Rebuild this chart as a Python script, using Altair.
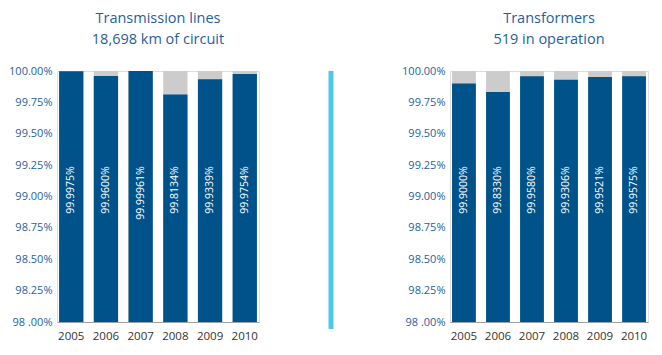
import altair as alt
import pandas as pd

years = ["2005", "2006", "2007", "2008", "2009", "2010"]
lines_vals = [99.9975, 99.9600, 99.99961, 99.8134, 99.9339, 99.9754]
lines_labels = ["99.9975%", "99.9600%", "99.99961%", "99.8134%", "99.9339%", "99.9754%"]
trans_vals = [99.9000, 99.8330, 99.9580, 99.9306, 99.9521, 99.9575]
trans_labels = ["99.9000%", "99.8330%", "99.9580%", "99.9306%", "99.9521%", "99.9575%"]
y_ticks = [98.0, 98.25, 98.5, 98.75, 99.0, 99.25, 99.5, 99.75, 100.0]

FONT = "Open Sans"
DARK = "#00538A"
GREY = "#CCCCCC"
CYAN = "#4FC8E8"
BLUE_TXT = "#1F5F9E"


def panel(vals, labels, title_lines, width, separator=False):
    df = pd.DataFrame({"year": years, "value": vals, "label": labels,
                       "top": [100.0] * len(years), "base": [98.0] * len(years),
                       "labpos": [99.24] * len(years)})
    x = alt.X("year:N", title=None,
              scale=alt.Scale(paddingInner=0.3, paddingOuter=0.06),
              axis=alt.Axis(labelAngle=0, ticks=False, domain=True,
                            domainColor="#A0A0A0", labelPadding=8,
                            labelColor="#333333", labelFontSize=11.5, labelFont=FONT))
    yscale = alt.Scale(domain=[98, 100], zero=False, nice=False)
    yaxis = alt.Axis(values=y_ticks, grid=False, ticks=False, domain=False, labelOverlap=False,
                     labelPadding=5, labelColor=BLUE_TXT, labelFontSize=11, labelFont=FONT,
                     labelExpr="datum.value == 98 ? '98 .00%' : format(datum.value, '.2f') + '%'")
    base = alt.Chart(df)
    bg = base.mark_bar(color=GREY).encode(
        x=x, y=alt.Y("top:Q", scale=yscale, axis=yaxis, title=None), y2="base:Q")
    fg = base.mark_bar(color=DARK).encode(
        x=x, y=alt.Y("value:Q", scale=yscale, axis=yaxis, title=None), y2="base:Q")
    txt = base.mark_text(angle=270, align="right", baseline="middle", color="white",
                         fontSize=10.5, font=FONT).encode(
        x=x, y=alt.Y("labpos:Q", scale=yscale, axis=yaxis, title=None), text="label:N")
    layers = [bg, fg, txt]
    if separator:
        sep = alt.Chart(pd.DataFrame({"k": [0]})).mark_rule(color=CYAN, strokeWidth=5).encode(
            x=alt.value(-119), y=alt.value(0), y2=alt.value(258))
        layers.append(sep)
    return alt.layer(*layers).properties(
        width=width, height=251,
        title=alt.TitleParams(text=title_lines, font=FONT, fontSize=14.5, fontWeight="normal",
                              color=BLUE_TXT, lineHeight=21, anchor="middle", frame="group",
                              offset=18))


left = panel(lines_vals, lines_labels, ["Transmission lines", "18,698 km of circuit"], 202)
right = panel(trans_vals, trans_labels, ["Transformers", "519 in operation"], 198, separator=True)

chart = alt.hconcat(left, right, spacing=68).properties(
    padding={"left": 0, "top": 2, "right": 0, "bottom": 0}
).configure_view(stroke=None).configure(background="white")

chart.save("out.html", embed_options={"renderer": "svg", "actions": False})
